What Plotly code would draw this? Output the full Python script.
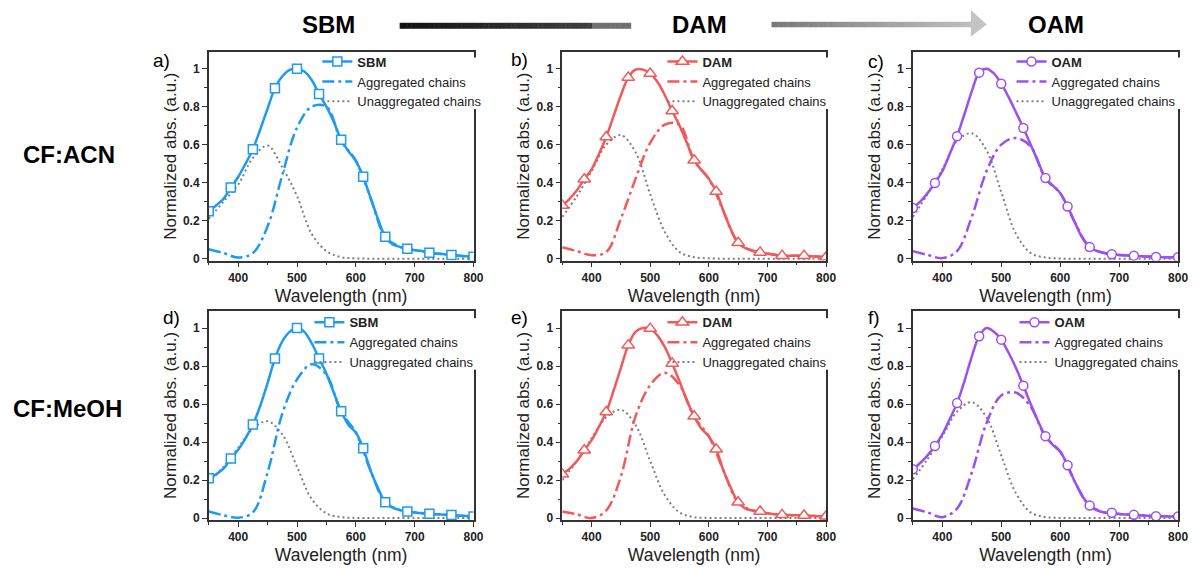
import plotly.graph_objects as go

# ---------------------------------------------------------------- data
WAVELENGTH_FINE = [350, 362.5, 375, 387.5, 400, 412.5, 425, 437.5, 450, 462.5,
                   475, 487.5, 500, 512.5, 525, 537.5, 550, 562.5, 575, 587.5,
                   600, 612.5, 625, 637.5, 650, 662.5, 675, 687.5, 700, 712.5,
                   725, 737.5, 750, 762.5, 775, 787.5, 800]
WAVELENGTH_COARSE = [350, 375, 400, 425, 450, 475, 500, 525, 550, 575,
                     600, 625, 650, 675, 700, 725, 750, 775, 800]

SAMPLES = ["SBM", "DAM", "OAM"]
SOLVENTS = ["CF:ACN", "CF:MeOH"]
PANEL_LETTERS = ["a)", "b)", "c)", "d)", "e)", "f)"]
AGG_NAME = "Aggregated chains"
UNAGG_NAME = "Unaggregated chains"
X_TITLE = "Wavelength (nm)"
Y_TITLE = "Normalized abs. (a.u.)"

X_TICKS = [400, 500, 600, 700, 800]
Y_TICKS = [0, 0.2, 0.4, 0.6, 0.8, 1]
Y_TICK_TEXT = ["0", "0.2", "0.4", "0.6", "0.8", "1"]

# measured spectra (fine grid)
SBM_ACN = [0.25, 0.28, 0.315, 0.374, 0.43, 0.50, 0.576, 0.68, 0.79, 0.897,
           0.96, 0.993, 1.0, 0.985, 0.94, 0.866, 0.80, 0.72, 0.626, 0.565,
           0.515, 0.431, 0.32, 0.21, 0.115, 0.075, 0.062, 0.052, 0.045, 0.04,
           0.031, 0.027, 0.024, 0.019, 0.016, 0.013, 0.01]
DAM_ACN = [0.28, 0.315, 0.36, 0.418, 0.47, 0.55, 0.64, 0.75, 0.86, 0.953,
           0.995, 0.995, 0.974, 0.93, 0.86, 0.777, 0.70, 0.61, 0.518, 0.465,
           0.42, 0.353, 0.25, 0.155, 0.084, 0.055, 0.042, 0.033, 0.027, 0.021,
           0.016, 0.016, 0.016, 0.016, 0.013, 0.01, 0.008]
OAM_ACN = [0.267, 0.30, 0.345, 0.398, 0.46, 0.55, 0.644, 0.76, 0.88, 0.979,
           1.0, 0.975, 0.921, 0.85, 0.77, 0.688, 0.60, 0.51, 0.425, 0.385,
           0.345, 0.275, 0.19, 0.11, 0.061, 0.04, 0.03, 0.023, 0.02, 0.018,
           0.016, 0.013, 0.011, 0.009, 0.008, 0.008, 0.008]
SBM_MEOH = [0.209, 0.23, 0.26, 0.313, 0.36, 0.42, 0.492, 0.59, 0.71, 0.84,
            0.93, 0.98, 1.0, 0.98, 0.92, 0.84, 0.76, 0.66, 0.562, 0.49,
            0.45, 0.367, 0.25, 0.16, 0.083, 0.055, 0.042, 0.035, 0.03, 0.026,
            0.023, 0.02, 0.018, 0.016, 0.013, 0.011, 0.009]
DAM_MEOH = [0.231, 0.26, 0.30, 0.357, 0.41, 0.48, 0.558, 0.67, 0.79, 0.91,
            0.98, 1.0, 0.997, 0.96, 0.90, 0.814, 0.72, 0.62, 0.536, 0.47,
            0.43, 0.362, 0.25, 0.16, 0.083, 0.05, 0.04, 0.035, 0.025, 0.02,
            0.017, 0.016, 0.015, 0.014, 0.012, 0.01, 0.01]
OAM_MEOH = [0.257, 0.29, 0.33, 0.379, 0.44, 0.52, 0.605, 0.72, 0.85, 0.957,
            1.0, 0.98, 0.939, 0.87, 0.79, 0.697, 0.60, 0.51, 0.431, 0.385,
            0.35, 0.278, 0.19, 0.115, 0.066, 0.04, 0.03, 0.028, 0.022, 0.019,
            0.017, 0.015, 0.012, 0.01, 0.01, 0.009, 0.009]

# fitted components (coarse grid)
SBM_ACN_AGG = [0.05, 0.03, 0.006, 0.03, 0.17, 0.44, 0.69, 0.80, 0.80, 0.62,
               0.515, 0.32, 0.115, 0.062, 0.045, 0.031, 0.024, 0.016, 0.01]
DAM_ACN_AGG = [0.06, 0.04, 0.018, 0.035, 0.21, 0.42, 0.61, 0.705, 0.705, 0.515,
               0.42, 0.25, 0.084, 0.042, 0.027, 0.016, 0.016, 0.013, 0.008]
OAM_ACN_AGG = [0.04, 0.02, 0.003, 0.04, 0.22, 0.46, 0.60, 0.635, 0.59, 0.42,
               0.345, 0.19, 0.061, 0.03, 0.02, 0.016, 0.011, 0.008, 0.008]
SBM_MEOH_AGG = [0.035, 0.015, 0.002, 0.03, 0.24, 0.55, 0.73, 0.81, 0.755, 0.558,
                0.45, 0.25, 0.083, 0.042, 0.03, 0.023, 0.018, 0.013, 0.009]
DAM_MEOH_AGG = [0.035, 0.02, 0.0, 0.04, 0.22, 0.535, 0.70, 0.765, 0.70, 0.532,
                0.43, 0.25, 0.083, 0.04, 0.025, 0.017, 0.015, 0.012, 0.01]
OAM_MEOH_AGG = [0.05, 0.03, 0.005, 0.05, 0.24, 0.50, 0.645, 0.66, 0.585, 0.428,
                0.35, 0.19, 0.066, 0.03, 0.022, 0.017, 0.012, 0.01, 0.009]

SBM_ACN_UNAGG = [0.21, 0.30, 0.39, 0.53, 0.595, 0.48, 0.33, 0.13, 0.04, 0.008,
                 0.002, 0, 0, 0, 0, 0, 0, 0, 0]
DAM_ACN_UNAGG = [0.22, 0.33, 0.46, 0.60, 0.65, 0.56, 0.34, 0.14, 0.035, 0.008,
                 0.002, 0, 0, 0, 0, 0, 0, 0, 0]
OAM_ACN_UNAGG = [0.22, 0.34, 0.47, 0.62, 0.66, 0.57, 0.35, 0.13, 0.03, 0.006,
                 0.001, 0, 0, 0, 0, 0, 0, 0, 0]
SBM_MEOH_UNAGG = [0.188, 0.27, 0.37, 0.47, 0.51, 0.44, 0.27, 0.10, 0.025, 0.005,
                  0.001, 0, 0, 0, 0, 0, 0, 0, 0]
DAM_MEOH_UNAGG = [0.20, 0.30, 0.42, 0.53, 0.57, 0.49, 0.30, 0.12, 0.03, 0.005,
                  0.001, 0, 0, 0, 0, 0, 0, 0, 0]
OAM_MEOH_UNAGG = [0.205, 0.31, 0.43, 0.56, 0.61, 0.53, 0.33, 0.13, 0.03, 0.005,
                  0.001, 0, 0, 0, 0, 0, 0, 0, 0]

PANELS = [
    (SBM_ACN, SBM_ACN_AGG, SBM_ACN_UNAGG),
    (DAM_ACN, DAM_ACN_AGG, DAM_ACN_UNAGG),
    (OAM_ACN, OAM_ACN_AGG, OAM_ACN_UNAGG),
    (SBM_MEOH, SBM_MEOH_AGG, SBM_MEOH_UNAGG),
    (DAM_MEOH, DAM_MEOH_AGG, DAM_MEOH_UNAGG),
    (OAM_MEOH, OAM_MEOH_AGG, OAM_MEOH_UNAGG),
]

# ---------------------------------------------------------------- style
W, H = 1200, 569
FONT = "Arial, 'Liberation Sans', sans-serif"
INK = "#222222"
AXIS = "#333333"
COLORS = {"SBM": "#1E9AF0", "DAM": "#F05A5A", "OAM": "#9B50F0"}
SYMBOLS = {"SBM": "square", "DAM": "triangle-up", "OAM": "circle"}
MARKER_SIZE = {"SBM": 9, "DAM": 11, "OAM": 9}
MARKER_STEP = 3

X_SPANS = [(210.5, 477.5), (567.0, 833.0), (920.5, 1188.0)]   # px left/right
Y_SPANS = [(52.0, 262.9), (313.7, 524.6)]                     # px top/bottom
LEGEND_POS = [(320, 47), (668, 47), (1020, 47),
              (312, 310), (668, 310), (1023, 310)]             # px left/top
LETTER_POS = [(152, 61), (513, 60), (873, 62),
              (162, 320), (513, 320), (873, 320)]


def fx(px):
    return px / W


def fy(px):
    return 1 - px / H


fig = go.Figure()
layout = {}
shapes = []
annotations = []

for i, (main, agg, unagg) in enumerate(PANELS):
    r, c = divmod(i, 3)
    n = i + 1
    sample = SAMPLES[c]
    color = COLORS[sample]
    xref, yref = f"x{n}", f"y{n}"
    leg = "legend" if n == 1 else f"legend{n}"

    fig.add_trace(go.Scatter(
        x=WAVELENGTH_COARSE, y=unagg, mode="lines", name=UNAGG_NAME,
        line=dict(color="#7f7f7f", width=2, dash="2px,3px", shape="spline"),
        xaxis=xref, yaxis=yref, legend=leg, legendrank=3))
    fig.add_trace(go.Scatter(
        x=WAVELENGTH_COARSE, y=agg, mode="lines", name=AGG_NAME,
        line=dict(color=color, width=2.5, dash="12px,4px,3px,4px", shape="spline"),
        xaxis=xref, yaxis=yref, legend=leg, legendrank=2))
    fig.add_trace(go.Scatter(
        x=WAVELENGTH_FINE, y=main, mode="lines", showlegend=False,
        line=dict(color=color, width=2.5, shape="spline"),
        xaxis=xref, yaxis=yref))
    marker = dict(symbol=SYMBOLS[sample], size=MARKER_SIZE[sample],
                  color="white", line=dict(color=color, width=1.5))
    fig.add_trace(go.Scatter(
        x=WAVELENGTH_FINE[::MARKER_STEP], y=main[::MARKER_STEP],
        mode="markers", showlegend=False, marker=marker,
        xaxis=xref, yaxis=yref))
    # legend entry combining the line and its marker
    fig.add_trace(go.Scatter(
        x=[None], y=[None], mode="lines+markers", name=f"<b>{sample}</b>",
        line=dict(color=color, width=2.5), marker=marker,
        xaxis=xref, yaxis=yref, legend=leg, legendrank=1))

    x0, x1 = X_SPANS[c]
    top, bottom = Y_SPANS[r]
    axis_common = dict(showline=True, linecolor=AXIS, linewidth=1.5, mirror=True,
                       showgrid=False, zeroline=False, ticks="outside",
                       ticklen=5, tickwidth=1.3, tickcolor=AXIS,
                       tickfont=dict(family=FONT, size=12, color=INK, weight="bold"))
    layout[f"xaxis{n}"] = dict(
        axis_common, domain=[fx(x0), fx(x1)], range=[350, 800], anchor=yref,
        tickmode="array", tickvals=X_TICKS,
        minor=dict(tick0=0, dtick=50, ticks="outside", ticklen=3, tickcolor=AXIS),
        title=dict(text=X_TITLE, font=dict(family=FONT, size=17.5, color=INK), standoff=6))
    layout[f"yaxis{n}"] = dict(
        axis_common, domain=[fy(bottom), fy(top)], range=[-0.01, 1.09], anchor=xref,
        tickmode="array", tickvals=Y_TICKS, ticktext=Y_TICK_TEXT,
        minor=dict(tick0=0, dtick=0.1, ticks="outside", ticklen=3, tickcolor=AXIS),
        title=dict(text=Y_TITLE, font=dict(family=FONT, size=17, color=INK), standoff=2))

    lx, ly = LEGEND_POS[i]
    layout[leg] = dict(x=fx(lx), y=fy(ly), xanchor="left", yanchor="top",
                       bgcolor="rgba(0,0,0,0)", borderwidth=0, itemwidth=30,
                       font=dict(family=FONT, size=13, color=INK), tracegroupgap=0)

    # the frame is interrupted behind the legend text
    shapes.append(dict(type="rect", xref="paper", yref="paper", layer="above",
                       x0=fx(x1 - 3), x1=fx(x1 + 3), y0=fy(ly + 63), y1=fy(ly + 11),
                       fillcolor="white", line=dict(width=0)))

    tx, ty = LETTER_POS[i]
    annotations.append(dict(text=PANEL_LETTERS[i], x=fx(tx), y=fy(ty),
                            xref="paper", yref="paper", xanchor="left",
                            yanchor="middle", showarrow=False,
                            font=dict(family=FONT, size=19, color="black")))

# column headers and row labels
HEADER_POS = [(331, 25), (705, 25), (1065, 25)]
for name, (hx, hy) in zip(SAMPLES, HEADER_POS):
    annotations.append(dict(text=f"<b>{name}</b>", x=fx(hx), y=fy(hy),
                            xref="paper", yref="paper", showarrow=False,
                            xanchor="center", yanchor="middle",
                            font=dict(family=FONT, size=24, color="black")))
ROW_POS = [(70, 156), (68, 412)]
for name, (rx, ry) in zip(SOLVENTS, ROW_POS):
    annotations.append(dict(text=f"<b>{name}</b>", x=fx(rx), y=fy(ry),
                            xref="paper", yref="paper", showarrow=False,
                            xanchor="center", yanchor="middle",
                            font=dict(family=FONT, size=24, color="black")))

# gradient bar SBM -> DAM
N_SEG = 60
bar_l, bar_r, bar_t, bar_b = 403, 636, 23, 29
for k in range(N_SEG):
    a = bar_l + (bar_r - bar_l) * k / N_SEG
    b = bar_l + (bar_r - bar_l) * (k + 1) / N_SEG
    t = k / (N_SEG - 1)
    g = int(18 + 55 * t) if a < 597 else 112
    shapes.append(dict(type="rect", xref="paper", yref="paper",
                       x0=fx(a), x1=fx(b + 0.5), y0=fy(bar_b), y1=fy(bar_t),
                       fillcolor=f"rgb({g},{g},{g})", line=dict(width=0)))

# gradient arrow DAM -> OAM
arr_l, arr_r, arr_t, arr_b = 778, 980, 22, 27.5
for k in range(N_SEG):
    a = arr_l + (arr_r - arr_l) * k / N_SEG
    b = arr_l + (arr_r - arr_l) * (k + 1) / N_SEG
    t = k / (N_SEG - 1)
    g = int(122 + 68 * t)
    shapes.append(dict(type="rect", xref="paper", yref="paper",
                       x0=fx(a), x1=fx(b + 0.5), y0=fy(arr_b), y1=fy(arr_t),
                       fillcolor=f"rgb({g},{g},{g})", line=dict(width=0)))
head = [(979, 10), (995, 24.7), (979, 37)]
path = "M {},{} L {},{} L {},{} Z".format(*[v for p in head for v in (fx(p[0]), fy(p[1]))])
shapes.append(dict(type="path", xref="paper", yref="paper", path=path,
                   fillcolor="rgb(196,196,196)", line=dict(width=0)))

fig.update_layout(
    width=W, height=H, margin=dict(l=0, r=0, t=0, b=0),
    paper_bgcolor="white", plot_bgcolor="white",
    font=dict(family=FONT, color=INK),
    shapes=shapes, annotations=annotations, **layout)

fig.write_html("out.html")
